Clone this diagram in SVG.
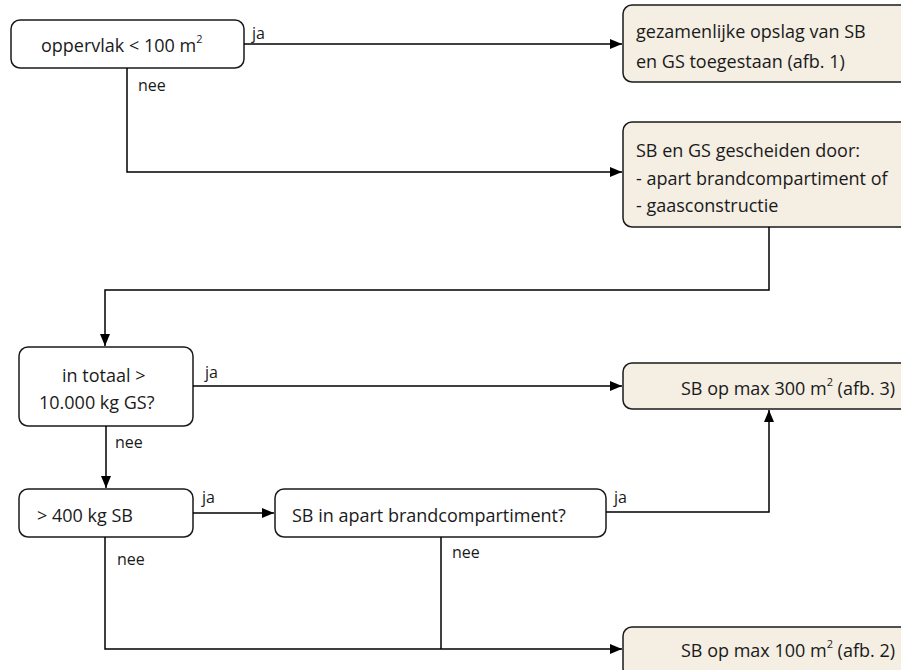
<svg xmlns="http://www.w3.org/2000/svg" width="901" height="670" viewBox="0 0 901 670">
<defs>
<marker id="ah" markerWidth="12" markerHeight="10" refX="12" refY="5" orient="auto" markerUnits="userSpaceOnUse">
<path d="M0,0 L12,5 L0,10 Z" fill="#000"/>
</marker>
<style>
.q{fill:#fff;stroke:#1a1a1a;stroke-width:1.5}
.r{fill:#f4eee3;stroke:#1a1a1a;stroke-width:1.5}
text{font-family:"Open Sans","Noto Sans",sans-serif;font-size:18px;fill:#1a1a1a}
.l{font-size:16px}
.s{font-size:11px}
.c{stroke:#000;stroke-width:1.5;fill:none}
</style>
</defs>
<rect width="901" height="670" fill="#fff"/>
<g id="n1"><rect class="q" x="11" y="20" width="233" height="48" rx="9"/><text x="41" y="52">oppervlak &lt; 100 m<tspan class="s" dy="-9">2</tspan></text></g>
<g id="n2"><rect class="r" x="623" y="5" width="290" height="77" rx="9"/><text x="636" y="38">gezamenlijke opslag van SB</text><text x="636" y="68">en GS toegestaan (afb. 1)</text></g>
<g id="n3"><rect class="r" x="623" y="122" width="290" height="105" rx="9"/><text x="636" y="157">SB en GS gescheiden door:</text><text x="636" y="185">- apart brandcompartiment of</text><text x="636" y="212">- gaasconstructie</text></g>
<g id="n4"><rect class="q" x="19" y="347" width="174" height="79" rx="9"/><text x="62" y="382">in totaal &gt;</text><text x="39" y="409">10.000 kg GS?</text></g>
<g id="n5"><rect class="r" x="623" y="363" width="290" height="46" rx="9"/><text x="895" y="395" text-anchor="end">SB op max 300 m<tspan class="s" dy="-9">2</tspan><tspan dy="9"> (afb. 3)</tspan></text></g>
<g id="n6"><rect class="q" x="19" y="489" width="174" height="48" rx="9"/><text x="37" y="522">&gt; 400 kg SB</text></g>
<g id="n7"><rect class="q" x="275" y="489" width="331" height="48" rx="9"/><text x="292" y="522">SB in apart brandcompartiment?</text></g>
<g id="n8"><rect class="r" x="623" y="627" width="290" height="50" rx="9"/><text x="895" y="657" text-anchor="end">SB op max 100 m<tspan class="s" dy="-9">2</tspan><tspan dy="9"> (afb. 2)</tspan></text></g>
<g id="connectors">
<path class="c" d="M244,44 H622" marker-end="url(#ah)"/>
<path class="c" d="M127,68 V172 H622" marker-end="url(#ah)"/>
<path class="c" d="M769,227 V290 H105 V346" marker-end="url(#ah)"/>
<path class="c" d="M193,386 H622" marker-end="url(#ah)"/>
<path class="c" d="M106,426 V488" marker-end="url(#ah)"/>
<path class="c" d="M193,513 H274" marker-end="url(#ah)"/>
<path class="c" d="M606,512 H769 V410" marker-end="url(#ah)"/>
<path class="c" d="M105,537 V649 H622" marker-end="url(#ah)"/>
<path class="c" d="M441,537 V649"/>
<text class="l" x="252" y="39">ja</text>
<text class="l" x="138" y="91">nee</text>
<text class="l" x="205" y="378">ja</text>
<text class="l" x="115" y="448">nee</text>
<text class="l" x="202" y="503">ja</text>
<text class="l" x="614" y="503">ja</text>
<text class="l" x="117" y="565">nee</text>
<text class="l" x="452" y="558">nee</text>
</g>
</svg>
